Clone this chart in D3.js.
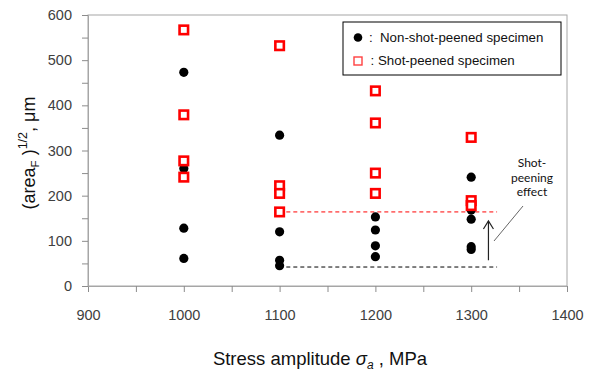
<!DOCTYPE html>
<html>
<head>
<meta charset="utf-8">
<script src="https://cdn.jsdelivr.net/npm/d3@7"></script>
<style>
  body { margin: 0; background: #fff; }
  svg { font-family: "Liberation Sans", Arial, sans-serif; }
</style>
</head>
<body>
<svg id="chart" width="591" height="374"></svg>
<script>
// Data
const xTickLabels = [900, 1000, 1100, 1200, 1300, 1400];
const xMinorTicks = [950, 1050, 1150, 1250, 1350];
const yTickLabels = [0, 100, 200, 300, 400, 500, 600];
const yMinorTicks = [50, 150, 250, 350, 450, 550];

// Non-shot-peened specimens
const nspStress = [1000, 1000, 1000, 1000, 1100, 1100, 1100, 1100, 1200, 1200, 1200, 1200, 1300, 1300, 1300, 1300, 1300];
const nspSize   = [473, 260, 128, 61, 334, 120, 57, 45, 153, 124, 89, 65, 241, 168, 148, 87, 81];

// Shot-peened specimens
const spStress = [1000, 1000, 1000, 1000, 1100, 1100, 1100, 1100, 1200, 1200, 1200, 1200, 1300, 1300, 1300];
const spSize   = [567, 379, 277, 241, 532, 222, 205, 164, 432, 361, 250, 205, 329, 189, 178];

// Shot-peening effect guide lines
const minLevels = [164, 42];        // shot-peened min, non-shot-peened min
const guideFrom = 1107, guideTo = 1327;
const arrowX = 1318, arrowFrom = 57, arrowTo = 144;

const svg = d3.select("svg#chart");
const margin = {left: 88, right: 24, top: 15, bottom: 88};
const width = 591 - margin.left - margin.right;
const height = 374 - margin.top - margin.bottom;

const x = d3.scaleLinear().domain([900, 1400]).range([margin.left, margin.left + width]);
const y = d3.scaleLinear().domain([0, 600]).range([margin.top + height, margin.top]);

// Frame
svg.append("rect")
  .attr("x", x(900)).attr("y", y(600))
  .attr("width", x(1400) - x(900)).attr("height", y(0) - y(600))
  .attr("fill", "none").attr("stroke", "#a6a6a6").attr("stroke-width", 1);

// Axes
const xAxis = svg.append("g")
  .attr("transform", "translate(0," + y(0) + ")")
  .call(d3.axisBottom(x).tickValues(xTickLabels.concat(xMinorTicks)).tickSize(6)
    .tickFormat(d => xTickLabels.includes(d) ? d : ""));
const yAxis = svg.append("g")
  .attr("transform", "translate(" + x(900) + ",0)")
  .call(d3.axisLeft(y).tickValues(yTickLabels.concat(yMinorTicks)).tickSize(6)
    .tickFormat(d => yTickLabels.includes(d) ? d : ""));

[xAxis, yAxis].forEach(a => {
  a.select(".domain").attr("stroke", "#a6a6a6");
  a.selectAll(".tick line").attr("stroke", "#8c8c8c");
  a.selectAll("text")
    .attr("fill", "#404040")
    .style("font-size", "14.5px")
    .style("font-family", "'Liberation Sans', Arial, sans-serif");
});
xAxis.selectAll("text").attr("y", 34).attr("dy", 0);
yAxis.selectAll("text").attr("x", -16);

// Guide lines
const colorsGuide = ["#ff0000", "#000000"];
svg.selectAll("line.guide")
  .data(minLevels)
  .join("line")
  .attr("class", "guide")
  .attr("x1", x(guideFrom)).attr("x2", x(guideTo))
  .attr("y1", d => y(d)).attr("y2", d => y(d))
  .attr("stroke", (d, i) => colorsGuide[i])
  .attr("stroke-width", 1)
  .attr("stroke-dasharray", "4,3");

// Arrow
svg.append("line")
  .attr("x1", x(arrowX)).attr("x2", x(arrowX))
  .attr("y1", y(arrowFrom)).attr("y2", y(arrowTo))
  .attr("stroke", "#222").attr("stroke-width", 1.2);
svg.append("path")
  .attr("d", "M" + (x(arrowX) - 5) + "," + (y(arrowTo) + 8) + "L" + x(arrowX) + "," + y(arrowTo) + "L" + (x(arrowX) + 5) + "," + (y(arrowTo) + 8))
  .attr("fill", "none").attr("stroke", "#222").attr("stroke-width", 1.2);

// Leader line and note
svg.append("line")
  .attr("x1", 523).attr("y1", 206)
  .attr("x2", 494).attr("y2", 241)
  .attr("stroke", "#555").attr("stroke-width", 0.9);
const note = svg.append("text")
  .attr("text-anchor", "middle")
  .style("font-family", "Lato, 'Open Sans', sans-serif")
  .style("font-size", "12px")
  .attr("fill", "#111");
["Shot-", "peening", "effect"].forEach((t, i) => {
  note.append("tspan").attr("x", 532).attr("y", 167 + i * 14.5).text(t);
});

// Non-shot-peened points
svg.selectAll("circle.nsp")
  .data(nspSize)
  .join("circle")
  .attr("class", "nsp")
  .attr("cx", (d, i) => x(nspStress[i]))
  .attr("cy", d => y(d))
  .attr("r", 4.6)
  .attr("fill", "#000");

// Shot-peened points
const sq = 8.5;
svg.selectAll("rect.sp")
  .data(spSize)
  .join("rect")
  .attr("class", "sp")
  .attr("x", (d, i) => x(spStress[i]) - sq / 2)
  .attr("y", d => y(d) - sq / 2)
  .attr("width", sq).attr("height", sq)
  .attr("fill", "#fff")
  .attr("stroke", "#ff0000")
  .attr("stroke-width", 2.6);

// Legend
const legend = svg.append("g");
legend.append("rect")
  .attr("x", 343).attr("y", 22).attr("width", 218).attr("height", 53)
  .attr("fill", "#fff").attr("stroke", "#000").attr("stroke-width", 1);
legend.append("circle").attr("cx", 358).attr("cy", 37.5).attr("r", 4.3).attr("fill", "#000");
legend.append("rect").attr("x", 354).attr("y", 57).attr("width", 8).attr("height", 8)
  .attr("fill", "#fff").attr("stroke", "#ff4040").attr("stroke-width", 1.4);
legend.append("text").attr("x", 369).attr("y", 42).style("font-size", "13.3px").attr("fill", "#111").text(":");
legend.append("text").attr("x", 380).attr("y", 42).style("font-size", "13.3px").attr("fill", "#111")
  .text("Non-shot-peened specimen");
legend.append("text").attr("x", 370.5).attr("y", 65).style("font-size", "13.3px").attr("fill", "#111").text(":");
legend.append("text").attr("x", 378).attr("y", 65).style("font-size", "13.3px").attr("fill", "#111")
  .text("Shot-peened specimen");

// Axis titles
const xt = svg.append("text")
  .attr("x", 320).attr("y", 365)
  .attr("text-anchor", "middle")
  .style("font-size", "18.5px")
  .attr("fill", "#111");
xt.append("tspan").text("Stress amplitude ");
xt.append("tspan").style("font-style", "italic").text("σ");
xt.append("tspan").style("font-style", "italic").style("font-size", "12px").attr("dy", 4).text("a");
xt.append("tspan").attr("dy", -4).text(" , MPa");

const yt = svg.append("text")
  .attr("transform", "translate(35,153) rotate(-90)")
  .attr("text-anchor", "middle")
  .style("font-size", "18px")
  .attr("fill", "#111");
yt.append("tspan").text("(area");
yt.append("tspan").style("font-size", "11.5px").attr("dy", 4).text("F");
yt.append("tspan").attr("dy", -4).text(" )");
yt.append("tspan").style("font-size", "12.5px").attr("dy", -8).text("1/2");
yt.append("tspan").attr("dy", 8).text(", μm");
</script>
</body>
</html>
